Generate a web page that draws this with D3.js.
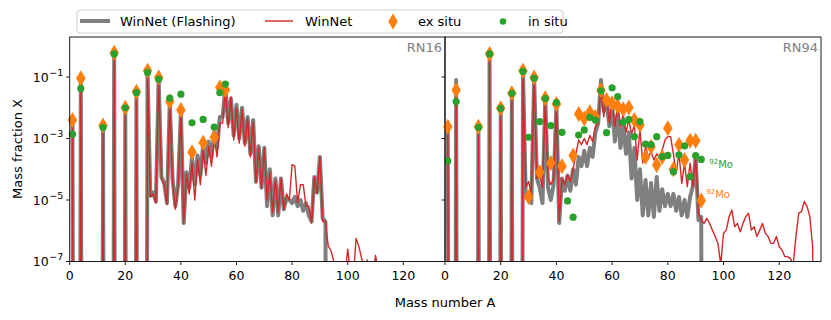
<!DOCTYPE html>
<html>
<head>
<meta charset="utf-8">
<script src="https://cdn.jsdelivr.net/npm/d3@7"></script>
<style>
  body { margin: 0; background: #fff; }
  svg { font-family: "DejaVu Sans", sans-serif; }
</style>
</head>
<body>
<svg id="chart" width="831" height="320"></svg>
<script>
// every line series starts at mass number 1, one entry per A
// values are log10 of the mass fraction, null = nothing there (drops off the plot)
const firstA = 1;

const rn16Flash = [
  -2.45, null, null, -1.1, null, null, null, null, null, null,
  null, -2.6, null, null, null, -0.22, null, null, null, -2.05,
  null, null, null, -1.5, null, null, null, -0.82, -4.85, -4.75,
  -5.05, -1.05, -4.25, -4.45, -5.1, -1.8, -4.3, -5.2, -4.5, -2.1,
  -5.75, -4.1, -4.6, -3.6, -4.5, -3.55, -4.2, -3.2, -3.8, -3.1,
  -3.6, -2.8, -3.3, -2.3, -2.3, -1.35, -2.5, -1.7, -2.9, -1.9,
  -3.0, -2.0, -3.15, -2.3, -3.5, -2.4, -4.4, -3.25, -4.6, -3.3,
  -5.2, -4.0, -5.5, -4.3, -5.5, -4.3, -5.3, -4.95, -5.0, -5.1,
  -4.9, -5.2, -5.0, -5.35, -5.1, -5.5, -5.7, -4.25, -4.75, -3.6,
  -5.6, -5.7, null
];

const rn16WinNet = [
  -2.45, null, null, -1.1, null, null, null, null, null, null,
  null, -2.6, null, null, null, -0.22, null, null, null, -2.05,
  null, null, null, -1.5, null, null, null, -0.82, -4.9, -4.8,
  -5.1, -1.05, -4.3, -4.5, -5.15, -1.82, -4.4, -5.3, -4.55, -2.1,
  -5.75, -4.15, -4.8, -3.8, -5.0, -3.7, -4.5, -3.35, -4.2, -3.25,
  -3.9, -2.95, -3.6, -2.5, -2.5, -1.4, -2.65, -1.65, -3.05, -2.0,
  -3.15, -2.05, -3.25, -2.35, -3.6, -2.45, -4.45, -3.3, -4.6, -3.3,
  -5.0, -4.1, -5.4, -4.35, -5.4, -4.3, -5.3, -4.8, -5.0, -3.85,
  -3.9, -5.1, -4.5, -4.5, -5.2, -5.2, -5.75, -4.25, -4.8, -3.6,
  -5.7, -5.7, -6.5, -6.65, -7.0, -7.4, -7.6, -7.2, -7.5, -6.6,
  -7.4, -7.6, -6.25, -6.5, -6.9, -7.3, -6.95, -7.3, -7.5, -6.8,
  -7.3, null
];

const rn16ExSituA = [1, 4, 12, 16, 20, 24, 28, 32, 36, 40, 44, 48, 52, 54, 56];
const rn16ExSitu  = [-2.4, -1.04, -2.58, -0.21, -2.0, -1.48, -0.8, -1.02, -1.8, -2.07, -3.45, -3.14, -2.96, -1.34, -1.42];
const rn16InSituA = [1, 4, 12, 16, 20, 24, 28, 32, 36, 40, 44, 48, 52, 54, 56];
const rn16InSitu  = [-2.86, -1.37, -2.64, -0.25, -2.0, -1.51, -0.85, -1.07, -1.69, -1.56, -2.49, -2.38, -2.63, -1.51, -1.23];

const rn94Flash = [
  -2.6, null, null, -1.1, null, null, null, null, null, null,
  null, -2.6, null, null, null, -0.22, null, null, null, -2.05,
  null, null, null, -1.5, null, null, null, -0.8, -4.9, -4.85,
  -5.1, -1.02, -4.3, -4.6, -5.1, -1.7, -4.6, -5.0, -4.5, -1.9,
  -5.75, -4.3, -4.7, -4.2, -4.7, -4.0, -4.5, -3.6, -3.9, -3.4,
  -3.9, -3.3, -3.6, -2.8, -2.5, -1.1, -2.1, -1.8, -2.6, -1.9,
  -3.1, -2.2, -3.3, -2.6, -3.5, -2.8, -4.3, -3.3, -5.0, -4.0,
  -5.5, -4.35, -5.5, -4.45, -5.55, -4.25, -5.35, -4.65, -5.2, -4.8,
  -5.2, -4.8, -5.35, -4.9, -5.5, -5.0, -5.55, -4.9, -4.55, -3.6,
  -5.65, -5.55, null
];

const rn94WinNet = [
  -2.6, null, null, -1.3, null, null, null, null, null, null,
  null, -2.6, null, null, null, -0.25, null, null, null, -2.05,
  null, null, null, -1.5, null, null, null, -0.82, -4.6, -4.4,
  -4.8, -1.05, -4.3, -4.2, -4.6, -1.75, -4.3, -4.5, -4.3, -1.95,
  -5.7, -4.3, -4.5, -4.2, -4.4, -4.0, -3.5, -3.05, -3.2, -3.0,
  -3.2, -2.9, -3.1, -2.6, -2.5, -1.3, -2.3, -1.6, -2.5, -1.8,
  -2.6, -1.9, -2.6, -2.2, -2.8, -2.4, -2.85, -2.56, -3.7, -2.72,
  -3.8, -3.27, -3.6, -3.43, -3.7, -3.5, -3.6, -3.37, -3.05, -2.94,
  -2.94, -3.5, -4.13, -3.48, -4.46, -3.8, -4.57, -3.8, -4.57, -3.59,
  -5.43, -5.65, -5.76, -5.6, -5.76, -5.98, -6.19, -6.41, -7.1, -6.08,
  -5.98, -5.54, -5.33, -5.87, -5.76, -6.03, -5.76, -5.54, -5.43, -5.98,
  -5.87, -6.19, -5.98, -5.76, -6.08, -6.19, -6.41, -6.41, -6.19, -6.52,
  -6.63, -6.84, -6.84, -6.9, -7.1, -6.19, -5.43, -5.38, -5.05, -5.21,
  -5.54, -6.52, null
];

const rn94ExSituA = [1, 4, 12, 16, 20, 24, 28, 30, 32, 34, 36, 38, 40, 42, 46, 48, 50, 52, 54, 56,
                     58, 60, 62, 64, 66, 68, 70, 72, 74, 76, 78, 80, 82, 84, 86, 88, 90, 92];
const rn94ExSitu  = [-2.62, -1.42, -2.62, -0.25, -2.02, -1.53, -0.8, -4.9, -1.02, -4.1, -1.69, -3.8, -1.88, -3.9, -3.55, -2.2, -2.35, -2.15, -2.3, -1.43,
                     -1.75, -1.85, -1.95, -2.05, -1.99, -2.4, -2.56, -3.6, -3.27, -3.86, -3.6, -2.67, -4.0, -3.2, -3.7, -3.07, -3.07, -5.02];
const rn94InSituA = [1, 4, 12, 16, 20, 24, 28, 30, 32, 34, 36, 38, 40, 42, 44, 46, 48, 50, 52, 54,
                     56, 58, 60, 62, 64, 66, 68, 70, 72, 74, 76, 78, 80, 82, 84, 86, 88, 90, 92];
const rn94InSitu  = [-3.73, -1.8, -2.64, -0.25, -2.02, -1.53, -0.82, -2.96, -1.04, -2.45, -1.7, -2.58, -1.83, -2.8, -5.03, -5.56, -2.89, -2.72, -2.31, -2.4,
                     -1.45, -2.81, -1.35, -1.64, -2.47, -2.38, -2.94, -2.45, -3.18, -3.2, -2.94, -3.59, -3.55, -4.08, -3.53, -3.24, -4.24, -3.56, -3.68];

const xTicks = [0, 20, 40, 60, 80, 100, 120];
const yTicks = [1e-1, 1e-3, 1e-5, 1e-7];

const colFlash = "#7f7f7f", colWinNet = "#d62728", colEx = "#ff7f0e", colIn = "#2ca02c";

const svg = d3.select("#chart");
const plotTop = 37, plotBottom = 261.5;

const y = d3.scaleLog().domain([1e-7, 2]).range([plotBottom, plotTop]);
const toX = v => (v === null ? 1e-40 : Math.pow(10, v));

const panels = [
  {name: "RN16", left: 69.7, right: 445, flash: rn16Flash, winnet: rn16WinNet,
   exA: rn16ExSituA, ex: rn16ExSitu, inA: rn16InSituA, ins: rn16InSitu},
  {name: "RN94", left: 445, right: 821, flash: rn94Flash, winnet: rn94WinNet,
   exA: rn94ExSituA, ex: rn94ExSitu, inA: rn94InSituA, ins: rn94InSitu}
];

// thin diamond like matplotlib 'd'
const diamond = (w, h) => `M0,${-h/2}L${w/2},0L0,${h/2}L${-w/2},0Z`;

panels.forEach(function(p, k) {
  const x = d3.scaleLinear().domain([0, 135]).range([p.left, p.right]);
  const g = svg.append("g");

  g.append("clipPath").attr("id", "clip" + k)
    .append("rect")
    .attr("x", p.left).attr("y", plotTop)
    .attr("width", p.right - p.left).attr("height", plotBottom - plotTop);

  const line = d3.line()
    .x((d, i) => x(i + firstA))
    .y(d => Math.min(y(toX(d)), 5000));

  const lines = g.append("g").attr("clip-path", `url(#clip${k})`);
  lines.append("path")
    .attr("d", line(p.flash))
    .attr("fill", "none")
    .attr("stroke", colFlash)
    .attr("stroke-width", 4)
    .attr("stroke-linejoin", "round");
  lines.append("path")
    .attr("d", line(p.winnet))
    .attr("fill", "none")
    .attr("stroke", colWinNet)
    .attr("stroke-width", 1.4)
    .attr("stroke-linejoin", "round");

  // ex situ diamonds
  g.append("g").selectAll("path")
    .data(p.exA)
    .enter()
    .append("path")
    .attr("d", diamond(9.5, 16))
    .attr("transform", (d, i) => `translate(${x(d)},${y(toX(p.ex[i]))})`)
    .attr("fill", colEx);

  // in situ dots
  g.append("g").selectAll("circle")
    .data(p.inA)
    .enter()
    .append("circle")
    .attr("cx", d => x(d))
    .attr("cy", (d, i) => y(toX(p.ins[i])))
    .attr("r", 3.6)
    .attr("fill", colIn);

  // frame
  g.append("rect")
    .attr("x", p.left).attr("y", plotTop)
    .attr("width", p.right - p.left).attr("height", plotBottom - plotTop)
    .attr("fill", "none").attr("stroke", "#000").attr("stroke-width", 0.9);

  // x ticks
  const xt = g.append("g").selectAll("g").data(xTicks).enter().append("g")
    .attr("transform", d => `translate(${x(d)},${plotBottom})`);
  xt.append("line").attr("y2", 3.5).attr("stroke", "#000").attr("stroke-width", 0.9);
  xt.append("text").attr("y", 18.5).attr("text-anchor", "middle")
    .attr("font-size", 12.5).text(d => d);

  // y ticks, labels only on the left panel
  const yt = g.append("g").selectAll("g").data(yTicks).enter().append("g")
    .attr("transform", d => `translate(${p.left},${y(d)})`);
  yt.append("line").attr("x2", -3.5).attr("stroke", "#000").attr("stroke-width", 0.9);
  if (k === 0) {
    const t = yt.append("text").attr("x", -6.5).attr("y", 4.7)
      .attr("text-anchor", "end").attr("font-size", 12.5);
    t.append("tspan").text("10");
    t.append("tspan").attr("dy", -6).attr("dx", 0.5).attr("font-size", 9.5)
      .text(d => "\u2212" + Math.abs(Math.round(Math.log10(d))));
  }

  g.append("text")
    .attr("x", p.right - 3).attr("y", 52)
    .attr("text-anchor", "end")
    .attr("font-size", 13)
    .attr("fill", "#808080")
    .text(p.name);

  if (k === 1) {
    const lab = [{c: colIn, a: 92, v: -3.68, dx: 8, dy: 8.5},
                 {c: colEx, a: 92, v: -5.02, dx: 5, dy: -2.5}];
    lab.forEach(function(l) {
      const t = g.append("text")
        .attr("x", x(l.a) + l.dx)
        .attr("y", y(toX(l.v)) + l.dy)
        .attr("fill", l.c)
        .attr("font-size", 10);
      t.append("tspan").attr("font-size", 7).attr("dy", -4).text("92");
      t.append("tspan").attr("dy", 4).text("Mo");
    });
  }
});

// axis labels
svg.append("text")
  .attr("transform", "translate(22,149) rotate(-90)")
  .attr("text-anchor", "middle")
  .attr("font-size", 13)
  .text("Mass fraction X");
svg.append("text")
  .attr("x", 445).attr("y", 307)
  .attr("text-anchor", "middle")
  .attr("font-size", 13)
  .text("Mass number A");

// legend
const lg = svg.append("g");
lg.append("rect")
  .attr("x", 77).attr("y", 10).attr("width", 486).attr("height", 23)
  .attr("rx", 3)
  .attr("fill", "#fff").attr("fill-opacity", 0.8)
  .attr("stroke", "#cccccc").attr("stroke-width", 0.9);
lg.append("line").attr("x1", 80).attr("x2", 110).attr("y1", 21).attr("y2", 21)
  .attr("stroke", colFlash).attr("stroke-width", 4);
lg.append("line").attr("x1", 265).attr("x2", 293).attr("y1", 21).attr("y2", 21)
  .attr("stroke", colWinNet).attr("stroke-width", 1.4);
lg.append("path").attr("d", diamond(9.5, 16)).attr("transform", "translate(393,21.5)")
  .attr("fill", colEx);
lg.append("circle").attr("cx", 503).attr("cy", 21.5).attr("r", 3.3).attr("fill", colIn);
const legendText = [["WinNet (Flashing)", 120], ["WinNet", 305], ["ex situ", 418], ["in situ", 528]];
lg.selectAll("text.leg")
  .data(legendText)
  .enter()
  .append("text")
  .attr("class", "leg")
  .attr("x", d => d[1]).attr("y", 26)
  .attr("font-size", 13)
  .text(d => d[0]);
</script>
</body>
</html>
